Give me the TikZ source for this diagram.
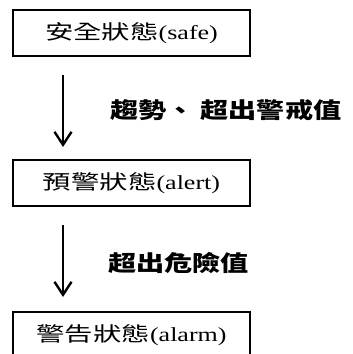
\documentclass[tikz,border=0pt]{standalone}
\usepackage{fontspec}
\setmainfont{Liberation Serif}[FakeStretch=1.3]
\newfontfamily\cjk{Noto Sans CJK TC}[FakeStretch=1.42]
\newfontfamily\cjkb{Noto Sans CJK TC}[FakeStretch=1.28]
\usetikzlibrary{arrows.meta}
\tikzset{
  statebox/.style={draw, line width=2pt, minimum width=237pt, minimum height=46pt,
    inner sep=0pt, outer sep=0pt, font=\fontsize{20pt}{22pt}\selectfont},
  arr/.style={line width=2.4pt, -{Straight Barb[length=13pt,width=17pt,line width=2.4pt]}},
  lbl/.style={anchor=west, inner sep=0pt, font=\fontsize{22pt}{24pt}\selectfont\cjkb\bfseries}
}
\begin{document}
\begin{tikzpicture}[x=1pt,y=1pt]
\useasboundingbox (0,0) rectangle (353,-354);
\clip (0,0) rectangle (353,-354);
\node[statebox] (safe) at (131.5,-33) {{\cjk 安全狀態}(safe)};
\node[statebox] (alert) at (131.5,-183) {{\cjk 預警狀態}(alert)};
\node[statebox] (alarm) at (131.5,-335) {{\cjk 警告狀態}(alarm)};
\draw[arr] ([xshift=50pt,yshift=-19pt]safe.south west) -- ([xshift=50pt,yshift=13pt]alert.north west);
\draw[arr] ([xshift=50pt,yshift=-19pt]alert.south west) -- ([xshift=50pt,yshift=15pt]alarm.north west);
\node[lbl] (l1) at (110,-110) {趨勢、\hspace{6pt}超出警戒值};
\node[lbl] (l2) at (108,-263) {超出危險值};
\end{tikzpicture}
\end{document}
